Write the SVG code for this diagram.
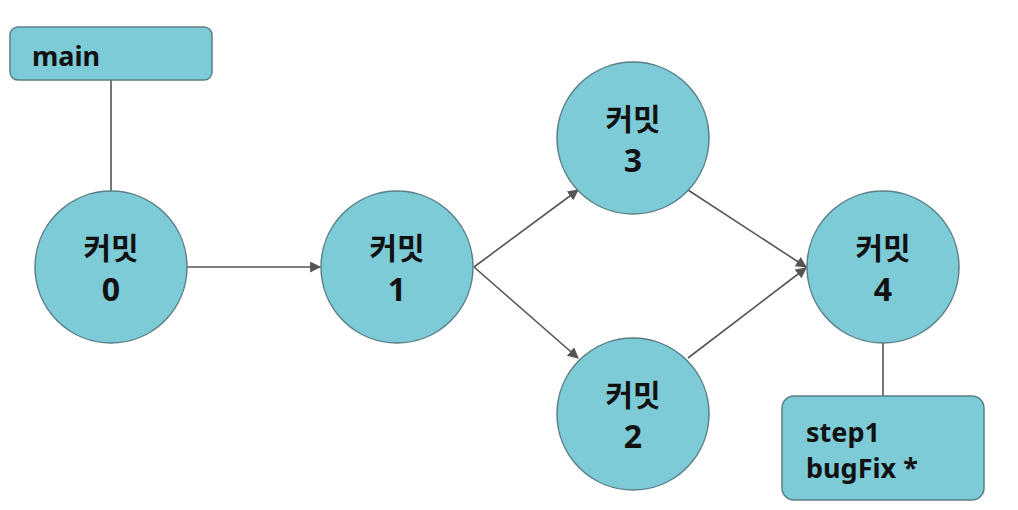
<svg xmlns="http://www.w3.org/2000/svg" width="1018" height="510" viewBox="0 0 1018 510">
<defs>
<style>
.node{fill:#7ccbd7;stroke:#5a7f86;stroke-width:1.5}
.lbl{font-family:"Noto Sans CJK KR","Noto Sans",sans-serif;font-weight:bold;font-size:30px;fill:#111;text-anchor:middle}
.num{font-family:"Noto Sans","Noto Sans CJK KR",sans-serif;font-weight:bold;font-size:32px;fill:#111;text-anchor:middle}
.tag{font-family:"Noto Sans","Noto Sans CJK KR",sans-serif;font-weight:bold;font-size:27px;fill:#111}
.edge{stroke:#555;stroke-width:1.6;fill:none}
</style>
<marker id="ah" viewBox="0 0 10 10" refX="9" refY="5" markerWidth="11" markerHeight="11" markerUnits="userSpaceOnUse" orient="auto">
<path d="M0,0 L10,5 L0,10 z" fill="#555"/>
</marker>
</defs>
<rect width="1018" height="510" fill="#fff"/>
<g id="connectors">
<line class="edge" x1="111" y1="80" x2="111" y2="191"/>
<line class="edge" x1="883" y1="343" x2="883" y2="396"/>
<line class="edge" x1="187" y1="267" x2="320" y2="267" marker-end="url(#ah)"/>
<line class="edge" x1="474" y1="267" x2="578" y2="190" marker-end="url(#ah)"/>
<line class="edge" x1="474" y1="267" x2="578" y2="358" marker-end="url(#ah)"/>
<line class="edge" x1="688" y1="190" x2="806" y2="267" marker-end="url(#ah)"/>
<line class="edge" x1="688" y1="358" x2="806" y2="268" marker-end="url(#ah)"/>
</g>
<g id="main">
<rect class="node" x="10" y="27" width="202" height="53" rx="8"/>
<text class="tag" x="32" y="66">main</text>
</g>
<g id="c0">
<circle class="node" cx="111" cy="267" r="76"/>
<text class="lbl" x="111" y="259">커밋</text>
<text class="num" x="111" y="301">0</text>
</g>
<g id="c1">
<circle class="node" cx="397" cy="267" r="76"/>
<text class="lbl" x="397" y="259">커밋</text>
<text class="num" x="397" y="301">1</text>
</g>
<g id="c3">
<circle class="node" cx="633" cy="138" r="76"/>
<text class="lbl" x="633" y="130">커밋</text>
<text class="num" x="633" y="172">3</text>
</g>
<g id="c2">
<circle class="node" cx="633" cy="414" r="76"/>
<text class="lbl" x="633" y="406">커밋</text>
<text class="num" x="633" y="448">2</text>
</g>
<g id="c4">
<circle class="node" cx="883" cy="267" r="76"/>
<text class="lbl" x="883" y="259">커밋</text>
<text class="num" x="883" y="301">4</text>
</g>
<g id="step1">
<rect class="node" x="782" y="396" width="202" height="104" rx="12"/>
<text class="tag" x="806" y="442">step1</text>
<text class="tag" x="806" y="478">bugFix *</text>
</g>
</svg>
